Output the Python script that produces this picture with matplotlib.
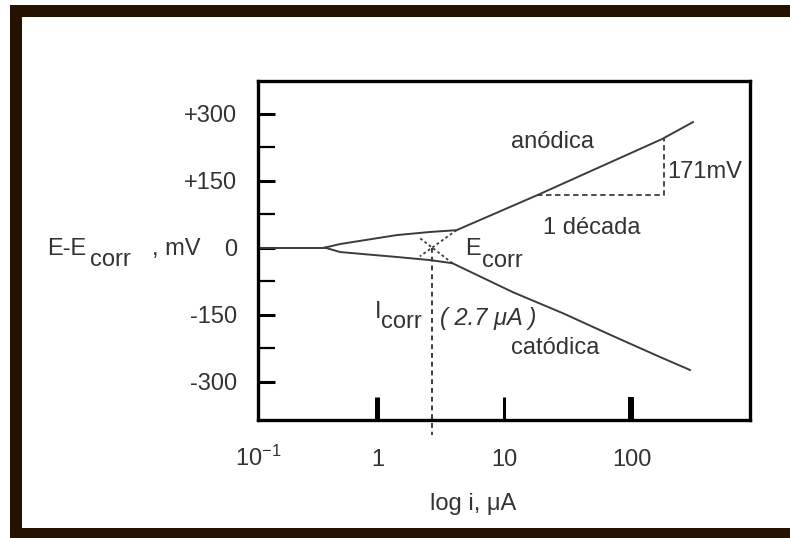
import numpy as np
import matplotlib.pyplot as plt
from matplotlib.patches import Rectangle
from matplotlib.ticker import NullLocator

plt.rcParams['font.family'] = ['Liberation Sans', 'DejaVu Sans']
plt.rcParams['mathtext.fontset'] = 'custom'
plt.rcParams['mathtext.rm'] = 'Liberation Sans'
plt.rcParams['axes.unicode_minus'] = False

#------ polarization curve (i in uA, E-Ecorr in mV) ------#
i_anodic = [0.386, 0.51, 1.42, 2.6, 4.2, 18, 174, 305]
e_anodic = [0, 8, 28, 35, 39, 117, 243, 281]
i_cathodic = [0.386, 0.51, 1.42, 2.6, 3.9, 11.7, 28.9, 71.5, 168, 289]
e_cathodic = [0, -10, -21, -28, -35, -100, -147, -198, -245, -274]
tafel_start = 4          # index where the straight Tafel part begins

i_corr = 2.7
e_corr = 0
decade = [18, 180]       # one decade marked on the anodic branch

yticks = [300, 150, 0, -150, -300]
ytick_labels = ['+300', '+150', '0', '-150', '-300']
yticks_minor = [225, 75, -75, -225]
xticks = [0.115, 1, 10, 100]
xtick_labels = [r'$\mathregular{10^{-1}}$', '1', '10', '100']

W, H = 790, 538
def fig_xy(x, y):
    return x / W, 1 - y / H

line_col = '#3c3c3c'
text_col = '#333333'
fs = 17

fig = plt.figure(figsize=(W / 100, H / 100), dpi=100)
ax = fig.add_axes([258 / W, 1 - 420 / H, (750 - 258) / W, (420 - 81) / H])
ax.set_xscale('log')
ax.set_xlim(0.115, 857)
ax.set_ylim(-386, 373)

# curves
ax.plot([ax.get_xlim()[0], i_anodic[0]], [0, 0], color=line_col, lw=1.4)
ax.plot(i_anodic, e_anodic, color=line_col, lw=1.4)
ax.plot(i_cathodic, e_cathodic, color=line_col, lw=1.4)

# Tafel extrapolations crossing at (Icorr, Ecorr)
def extend(i0, e0, i1, e1, i_end):
    slope = (e1 - e0) / (np.log10(i1) - np.log10(i0))
    return e0 + slope * (np.log10(i_end) - np.log10(i0))

i_end = i_corr / 1.25
for ii, ee in [(i_anodic, e_anodic), (i_cathodic, e_cathodic)]:
    i0, e0 = ii[tafel_start], ee[tafel_start]
    ax.plot([i0, i_end], [e0, extend(i0, e0, i_corr, e_corr, i_end)],
            color=line_col, lw=1.3, ls=(0, (1.5, 1.5)))

# Icorr marker line
y_bot = ax.get_ylim()[0]
ax.plot([i_corr, i_corr], [e_corr, y_bot - 33], color=line_col, lw=1.4,
        ls=(0, (2.5, 2)), clip_on=False)

# slope triangle
log_ia = np.log10(i_anodic)
e_lo = np.interp(np.log10(decade[0]), log_ia, e_anodic)
e_hi = np.interp(np.log10(decade[1]), log_ia, e_anodic)
ax.plot([decade[0], decade[1], decade[1]], [e_lo, e_lo, e_hi],
        color=line_col, lw=1.3, ls=(0, (3, 2)))

# annotations
ax.text(23.7, 236, 'anódica', ha='center', va='center', fontsize=fs, color=text_col)
ax.text(190, 169, '171mV', ha='left', va='center', fontsize=fs, color=text_col)
ax.text(48.9, 43.7, '1 década', ha='center', va='center', fontsize=fs, color=text_col)
ax.text(4.89, -16.8, 'E', ha='left', va='baseline', fontsize=fs, color=text_col)
ax.text(6.65, -43.7, 'corr', ha='left', va='baseline', fontsize=fs, color=text_col)
ax.annotate('I', xy=(i_corr, -158), xytext=(-57, 0), textcoords='offset pixels',
            ha='left', va='baseline', fontsize=fs, color=text_col)
ax.annotate('corr', xy=(i_corr, -180), xytext=(-51, 0), textcoords='offset pixels',
            ha='left', va='baseline', fontsize=fs, color=text_col)
ax.annotate('( 2.7 μA )', xy=(i_corr, -158), xytext=(8, 0), textcoords='offset pixels',
            ha='left', va='center', fontsize=fs, color=text_col, style='italic')
ax.text(25.0, -225, 'catódica', ha='center', va='center', fontsize=fs, color=text_col)

# axes, ticks
for s in ax.spines.values():
    s.set_linewidth(2.4)
    s.set_color('black')

ax.set_yticks(yticks, ytick_labels)
ax.set_yticks(yticks_minor, minor=True)
ax.set_xticks(xticks, xtick_labels)
ax.xaxis.set_minor_locator(NullLocator())
ax.tick_params(axis='y', which='major', direction='in', length=12, width=2.2,
               pad=15, labelsize=fs, labelcolor=text_col)
ax.tick_params(axis='y', which='minor', direction='in', length=12, width=1.6)
ax.tick_params(axis='x', which='major', direction='in', length=16.5,
               pad=33, labelsize=fs, labelcolor=text_col)
for t, w in zip(ax.xaxis.get_major_ticks(), [0, 3.6, 2.2, 4.3]):
    t.tick1line.set_markeredgewidth(w)
for lab in ax.get_xticklabels():
    lab.set_verticalalignment('baseline')

# axis titles
fig.text(*fig_xy(47, 255), 'E-E', ha='left', va='baseline', fontsize=fs, color=text_col)
fig.text(*fig_xy(90, 266), 'corr', ha='left', va='baseline', fontsize=fs, color=text_col)
fig.text(*fig_xy(152, 255), ', mV', ha='left', va='baseline', fontsize=fs, color=text_col)
fig.text(*fig_xy(473, 510), 'log i, μA', ha='center', va='baseline', fontsize=fs, color=text_col)

# dark frame around the figure
frame_col = '#231200'
for x0, y0, x1, y1 in [(10, 5, W, 17), (10, 5, 22, H), (10, 528, W, H)]:
    fx, fy = fig_xy(x0, y1)
    fig.add_artist(Rectangle((fx, fy), (x1 - x0) / W, (y1 - y0) / H,
                             transform=fig.transFigure, color=frame_col, lw=0))

fig.savefig('out.png', dpi=100)
